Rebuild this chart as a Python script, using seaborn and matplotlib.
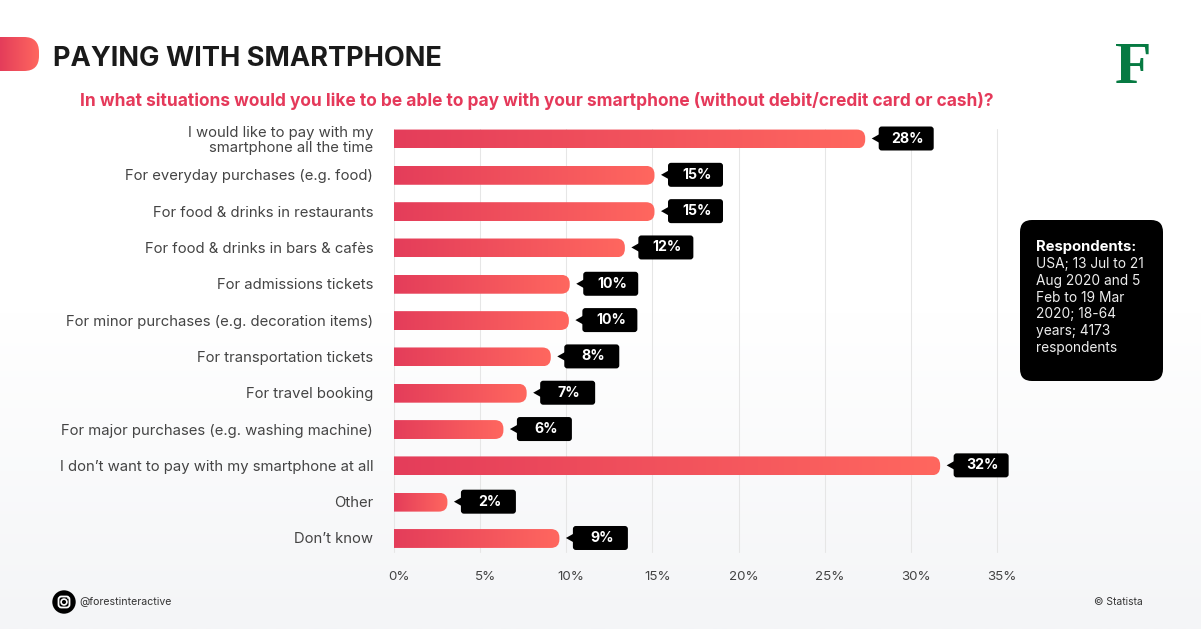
import numpy as np
import seaborn as sns
import matplotlib.pyplot as plt
from matplotlib.colors import LinearSegmentedColormap
from matplotlib.patches import FancyBboxPatch, Circle, Polygon
from matplotlib.path import Path
from matplotlib.transforms import ScaledTranslation

categories = [
    "I would like to pay with my\nsmartphone all the time",
    "For everyday purchases (e.g. food)",
    "For food & drinks in restaurants",
    "For food & drinks in bars & cafès",
    "For admissions tickets",
    "For minor purchases (e.g. decoration items)",
    "For transportation tickets",
    "For travel booking",
    "For major purchases (e.g. washing machine)",
    "I don\u2019t want to pay with my smartphone at all",
    "Other",
    "Don\u2019t know",
]
# bar lengths as drawn (they differ a bit from the printed labels)
bar_values = [27.35, 15.12, 15.12, 13.4, 10.2, 10.15, 9.1, 7.7, 6.35, 31.7, 3.1, 9.6]
bar_labels = ["28%", "15%", "15%", "12%", "10%", "10%", "8%", "7%", "6%", "32%", "2%", "9%"]
x_ticks = [0, 5, 10, 15, 20, 25, 30, 35]
x_ticklabels = ["0%", "5%", "10%", "15%", "20%", "25%", "30%", "35%"]

title = "PAYING WITH SMARTPHONE"
subtitle = "In what situations would you like to be able to pay with your smartphone (without debit/credit card or cash)?"
box_head = "Respondents:"
box_lines = ["USA; 13 Jul to 21", "Aug 2020 and 5", "Feb to 19 Mar", "2020; 18-64", "years; 4173", "respondents"]

W, H = 1201, 629
FONT = "Inter"
red_grad = LinearSegmentedColormap.from_list("redgrad", ["#E43D5A", "#FF675F"])
grad = np.linspace(0, 1, 256).reshape(1, -1)


def rounded_right(x0, x1, y0, y1, rx, ry):
    # square on the left, rounded on the right
    verts = [(x0, y0), (x1 - rx, y0), (x1, y0), (x1, y0 + ry), (x1, y1 - ry),
             (x1, y1), (x1 - rx, y1), (x0, y1), (x0, y0)]
    codes = [Path.MOVETO, Path.LINETO, Path.CURVE3, Path.CURVE3, Path.LINETO,
             Path.CURVE3, Path.CURVE3, Path.LINETO, Path.CLOSEPOLY]
    return Path(verts, codes)


sns.set_theme(style="white")
plt.rcParams["font.family"] = [FONT, "DejaVu Sans"]

fig = plt.figure(figsize=(W / 100, H / 100), dpi=100)

# page background, white fading to light grey
bg = fig.add_axes([0, 0, 1, 1], zorder=0)
bg.imshow(np.linspace(0, 1, 256).reshape(-1, 1), aspect="auto", extent=(0, W, H, 0),
          cmap=LinearSegmentedColormap.from_list("page", ["#FFFFFF", "#FFFFFF", "#F4F5F7"]))
bg.axis("off")

# main chart
top_px, bottom_px = 129, 552
ax = fig.add_axes([394 / W, 1 - bottom_px / H, (997 - 394) / W, (bottom_px - top_px) / H], zorder=1)
ax.patch.set_alpha(0)
sns.barplot(x=bar_values, y=categories, width=0.52, orient="h", ax=ax)

ax.set_xlim(0, 35)
ylim = (11 + (bottom_px - 538.5) / 36.3, -(139 - top_px) / 36.3)
ax.set_ylim(*ylim)
ax.set_xticks(x_ticks)
ax.set_xticklabels(x_ticklabels, fontsize=9.6, color="#444444")
ax.tick_params(axis="x", length=0, pad=13.5)
ax.tick_params(axis="y", length=0, pad=15)
for lab in ax.get_yticklabels():
    lab.set_fontsize(10.7)
    lab.set_color("#444444")
    lab.set_linespacing(1.1)
    lab.set_ha("right")
    lab.set_transform(lab.get_transform() + ScaledTranslation(0, 0.5 / 100, fig.dpi_scale_trans))
for lab in ax.get_xticklabels():
    lab.set_transform(lab.get_transform() + ScaledTranslation(5 / 100, 0, fig.dpi_scale_trans))
ax.set_xlabel("")
ax.set_ylabel("")
ax.grid(axis="x", color="#E6E6E6", linewidth=0.75, clip_on=False)
ax.grid(axis="y", visible=False)
ax.set_axisbelow(True)
sns.despine(ax=ax, left=True, bottom=True, top=True, right=True)

# swap the flat bars for gradient ones
rx = 8.5 / (603 / 35)
ry = 8.5 / 36.3
bar_ends = []
for patch in ax.patches:
    x0, y0 = patch.get_x(), patch.get_y()
    x1, y1 = x0 + patch.get_width(), y0 + patch.get_height()
    patch.set_visible(False)
    im = ax.imshow(grad, aspect="auto", extent=(x0, x1, y1, y0), cmap=red_grad, zorder=3)
    im.set_clip_path(rounded_right(x0, x1, y0, y1, rx, ry), transform=ax.transData)
    bar_ends.append((x1, (y0 + y1) / 2))
ax.set_xlim(0, 35)
ax.set_ylim(*ylim)

# overlay in pixel coordinates for the page furniture
ov = fig.add_axes([0, 0, 1, 1], zorder=2)
ov.set_xlim(0, W)
ov.set_ylim(H, 0)
ov.axis("off")
ov.patch.set_alpha(0)

# value tooltips
for (xv, yv), lab in zip(bar_ends, bar_labels):
    px, py = ax.transData.transform((xv, yv))
    py = H - py
    left = px + 13.5
    ov.add_patch(FancyBboxPatch((left + 2, py - 10.5), 51, 20, boxstyle="round,pad=2,rounding_size=3",
                                fc="black", ec="none", zorder=4))
    ov.add_patch(Polygon([(left + 1, py - 5), (left - 7, py - 0.5), (left + 1, py + 4)],
                         fc="black", ec="none", zorder=4))
    ov.text(left + 29, py - 0.5, lab, color="white", fontsize=10.2, fontweight="bold",
            ha="center", va="center", zorder=5)

# header mark
mark = ov.imshow(grad, aspect="auto", extent=(0, 39, 71, 37), cmap=red_grad, zorder=3)
mark.set_clip_path(rounded_right(0, 39, 37, 71, 15, 15), transform=ov.transData)
ov.set_xlim(0, W)
ov.set_ylim(H, 0)

ov.text(53, 58.5, title, fontsize=19.6, fontweight="bold", color="#1A1A1A", va="center", ha="left")
ov.text(80, 101.5, subtitle, fontsize=12.48, fontweight="bold", color="#E5395A", va="center", ha="left")

# logo
ov.text(1133, 69, "F", fontsize=43, fontweight="bold", color="#067A42", ha="center", va="center",
        family="Liberation Serif")

# respondents box
ov.add_patch(FancyBboxPatch((1032, 232), 119, 137, boxstyle="round,pad=12,rounding_size=12",
                            fc="black", ec="none", zorder=4))
ov.text(1036, 247, box_head, color="white", fontsize=10.7, fontweight="bold", va="center", zorder=5)
for i, line in enumerate(box_lines):
    ov.text(1036, 264 + i * 16.8, line, color="#EDEDED", fontsize=9.9, va="center", zorder=5)

# instagram handle
ov.add_patch(Circle((64, 602), 11.7, fc="black", ec="none"))
ov.add_patch(FancyBboxPatch((58.5, 596.5), 11, 11, boxstyle="round,pad=0,rounding_size=3",
                            fc="none", ec="white", lw=1.3))
ov.add_patch(Circle((64, 602), 2.9, fc="none", ec="white", lw=1.2))
ov.add_patch(Circle((68, 598), 0.8, fc="white", ec="none"))
ov.text(79, 602, "@forestinteractive", fontsize=7.6, color="#333333", va="center", ha="left")
ov.text(1143, 602, "\u00a9 Statista", fontsize=7.4, color="#333333", va="center", ha="right")

fig.savefig("out.png", dpi=100)
